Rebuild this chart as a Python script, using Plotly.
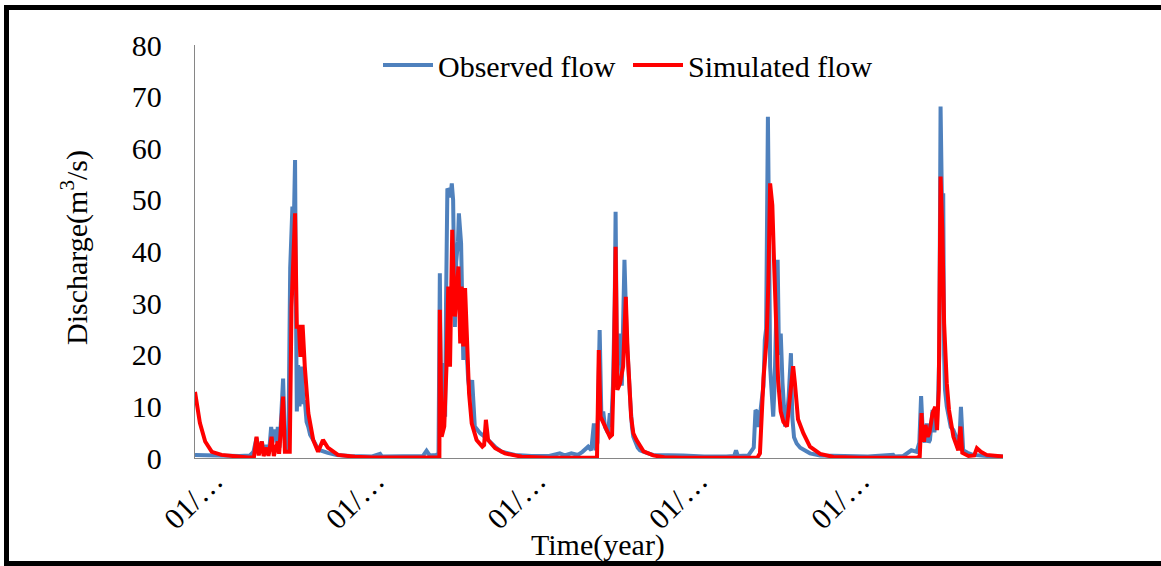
import pandas as pd
import plotly.graph_objects as go

# ---------------- data (days since start_date, discharge m3/s) ----------------
start_date = "2000-11-19"

obs_day = [0, 30, 60, 100, 124, 132, 139, 143, 151, 156, 162, 167, 172, 176, 180, 184, 187, 191,
           199, 203, 207, 211, 215, 220, 222, 226, 228, 230, 233, 236, 241, 245, 248, 252, 256,
           260, 267, 275, 282, 290, 300, 320, 350, 400, 418, 422,
           430, 480, 515, 523, 530, 545, 550, 553, 556, 557, 561, 565, 567, 570, 574, 577, 580,
           583, 587, 590, 594, 596, 601, 606, 611, 617, 622, 626, 632, 638, 644, 655, 662, 670,
           680, 693, 723, 760, 800, 824, 835, 850, 865, 875, 888, 895, 901, 905, 909,
           914, 918, 922, 926, 933, 937, 940, 944, 948, 950, 953, 957, 960, 964, 967, 970, 975,
           979, 983, 987, 990, 1000, 1005, 1020, 1035, 1102, 1150, 1200, 1218, 1222, 1226, 1250,
           1262, 1266, 1269, 1273, 1277, 1280, 1284, 1287, 1290, 1294, 1297, 1299, 1303, 1306,
           1309, 1312, 1316, 1319, 1323, 1327, 1331, 1333, 1337, 1341, 1346, 1349, 1353, 1359,
           1367, 1389, 1412, 1480, 1520, 1577, 1580, 1600, 1612, 1618, 1630, 1636, 1640, 1644,
           1648, 1653, 1657, 1660, 1666, 1670, 1674, 1678, 1681, 1684, 1687, 1690, 1692, 1694,
           1698, 1702, 1707, 1713, 1720, 1726, 1730, 1733, 1735, 1745, 1757, 1790, 1825]
obs_q = [0.6, 0.5, 0.4, 0.4, 0.5, 1.2, 3.9, 1.0, 3.2, 0.8, 2.5, 0.8, 6.0, 3.5, 5.5, 3.0, 6.0, 2.0,
         15.4, 3.0, 1.5, 3.0, 36.8, 48.7, 40.0, 57.7, 30.0, 9.0, 18.0, 10.0, 17.7, 10.5, 11.2, 7.0, 6.0,
         4.5, 3.5, 2.2, 1.5, 1.2, 1.0, 0.6, 0.4, 0.3, 0.8, 0.3,
         0.3, 0.3, 0.4, 1.4, 0.5, 0.6, 0.8, 35.8, 8.0, 12.5, 18.4, 8.0, 30.0, 51.9, 52.0, 50.5, 53.2,
         50.0, 25.4, 38.0, 42.0, 47.4, 41.6, 19.0, 25.4, 15.1, 12.0, 15.1, 6.1, 5.5, 4.8, 4.1, 3.5, 2.8,
         2.0, 1.2, 0.6, 0.4, 0.4, 0.9, 0.5, 0.9, 0.6, 1.2, 2.2, 1.5, 6.7, 1.5, 3.0,
         24.8, 7.4, 9.0, 6.0, 4.8, 8.7, 6.0, 14.0, 30.0, 47.7, 17.7, 22.0, 24.1, 14.0, 25.0, 38.4, 23.5,
         15.0, 11.2, 6.0, 4.1, 2.0, 1.5, 1.0, 0.6, 0.5, 0.3, 0.3, 0.4, 1.5, 0.4, 0.5,
         2.0, 9.3, 9.0, 6.0, 10.0, 11.2, 14.0, 22.9, 25.0, 66.1, 40.0, 17.7, 12.0, 8.0,
         14.0, 24.1, 38.4, 20.0, 24.1, 14.5, 10.0, 6.1, 8.0, 12.0, 20.3, 8.0, 4.0, 2.8,
         2.0, 0.9, 0.5, 0.3, 0.3, 0.6, 0.3, 0.4, 1.2, 1.5, 1.2, 3.0, 12.0, 4.8,
         3.0, 6.7, 3.0, 3.5, 9.3, 5.0, 8.0, 10.0, 20.0, 68.1, 50.0, 51.3, 20.0, 13.2,
         10.0, 8.0, 6.0, 5.4, 3.5, 2.5, 9.9, 4.0, 1.5, 1.0, 0.6, 0.4, 0.3]

sim_day = [0, 11, 23, 38, 60, 90, 120, 133, 139, 144, 151, 155, 162, 166, 173, 178, 182, 187, 190,
           199, 203, 214, 218, 221, 226, 230, 235, 238, 243, 248, 256, 267, 278, 289, 300, 323, 361,
           400, 450, 550, 552, 553, 557, 563, 568, 572, 576, 581, 587, 595, 599, 602, 606, 610, 614,
           619, 625, 636, 649, 653, 657, 662, 678, 700, 738, 800, 908,
           912, 916, 926, 937, 942, 946, 950, 954, 960, 967, 973, 977, 985, 990, 997, 1013, 1035,
           1060, 1100, 1270, 1276, 1284, 1291, 1295, 1299, 1304, 1308, 1313, 1317, 1323, 1329, 1337,
           1344, 1351, 1355, 1362, 1374, 1389, 1412, 1442, 1500, 1630, 1637, 1641, 1644, 1647, 1650,
           1655, 1659, 1666, 1672, 1676, 1680, 1684, 1688, 1692, 1698, 1703, 1713, 1724, 1729, 1733,
           1747, 1760, 1766, 1775, 1788, 1818, 1825]
sim_q = [12.8, 6.8, 3.2, 1.2, 0.6, 0.3, 0.1, 0.1, 4.1, 0.5, 3.2, 0.4, 2.0, 0.4, 4.1, 0.4, 1.5, 3.2, 0.8,
         11.9, 1.2, 1.2, 29.3, 35.0, 47.4, 25.4, 25.4, 19.6, 25.8, 17.7, 8.7, 3.5, 1.2, 3.5, 2.0, 0.6, 0.25,
         0.1, 0.05, 0.05, 0.1, 28.7, 4.1, 6.1, 17.7, 33.2, 17.7, 44.2, 27.4, 37.1, 22.2, 33.2, 21.6, 32.9, 24.1,
         12.5, 6.7, 3.5, 2.2, 2.5, 7.4, 3.5, 1.9, 0.9, 0.25, 0.05, 0.1,
         20.9, 8.0, 6.1, 4.1, 4.5, 17.7, 40.9, 13.2, 14.5, 17.7, 31.2, 20.9, 8.0, 4.8, 3.5, 1.3, 0.5,
         0.15, 0.05, 0.05, 0.9, 15.4, 22.9, 33.8, 53.2, 49.0, 37.7, 25.0, 15.1, 9.0, 7.0, 6.1,
         12.0, 17.8, 14.5, 7.5, 4.8, 2.2, 0.8, 0.2, 0.05, 0.05, 0.3, 8.7, 3.5, 3.5, 6.4,
         4.1, 5.0, 8.7, 9.9, 5.4, 13.2, 54.5, 44.2, 26.1, 14.5, 9.3, 4.1, 1.5, 6.1, 1.0,
         0.4, 0.5, 1.9, 1.2, 0.6, 0.3, 0.3]

tick_dates = ["2001-01-01", "2002-01-01", "2003-01-01", "2004-01-01", "2005-01-01"]
tick_text = ["01/…", "01/…", "01/…", "01/…", "01/…"]
y_ticks = [0, 10, 20, 30, 40, 50, 60, 70, 80]

# ---------------- figure ----------------
t0 = pd.Timestamp(start_date)
obs_x = t0 + pd.to_timedelta(obs_day, unit="D")
sim_x = t0 + pd.to_timedelta(sim_day, unit="D")

FONT = "Liberation Serif, Times New Roman, serif"
FS = 30
W, H = 1161, 566
L, R, T, B = 195, 158, 45, 108
pw, ph = W - L - R, H - T - B


def px(x):
    return (x - L) / pw


def py(y):
    return (H - B - y) / ph


fig = go.Figure()
fig.add_trace(go.Scatter(x=obs_x, y=obs_q, mode="lines", name="Observed flow",
                         line=dict(color="#4F81BD", width=4)))
fig.add_trace(go.Scatter(x=sim_x, y=sim_q, mode="lines", name="Simulated flow",
                         line=dict(color="#FF0000", width=4)))

fig.update_layout(
    width=W, height=H, autosize=False,
    margin=dict(l=L, r=R, t=T, b=B, pad=0),
    paper_bgcolor="white", plot_bgcolor="white",
    font=dict(family=FONT, size=FS, color="black"),
    showlegend=True,
    legend=dict(orientation="h", x=px(378), xanchor="left", y=py(65), yanchor="middle",
                bgcolor="rgba(0,0,0,0)", font=dict(size=FS), itemwidth=50,
                entrywidth=185, entrywidthmode="pixels", tracegroupgap=0),
    xaxis=dict(type="date", range=[t0, t0 + pd.Timedelta(days=1825)],
               tickmode="array", tickvals=tick_dates, ticktext=tick_text,
               tickangle=-45, showgrid=False, zeroline=False,
               showline=True, linecolor="#868686", linewidth=1.3, ticks="",
               ticklabelstandoff=-8, tickfont=dict(size=FS)),
    yaxis=dict(range=[0, 80], tickmode="array", tickvals=y_ticks,
               showgrid=False, zeroline=False, showline=True, linecolor="#868686",
               linewidth=1.3, ticks="", ticklabelstandoff=26, tickfont=dict(size=FS)),
    annotations=[
        dict(text="Discharge(m<sup>3</sup>/s)", xref="paper", yref="paper",
             x=px(74), y=py(248), textangle=-90, showarrow=False,
             xanchor="center", yanchor="middle", font=dict(size=FS)),
        dict(text="Time(year)", xref="paper", yref="paper",
             x=px(598), y=py(545), showarrow=False,
             xanchor="center", yanchor="middle", font=dict(size=FS)),
    ],
    shapes=[
        dict(type="rect", xref="paper", yref="paper",
             x0=px(6.5), x1=px(1175), y0=py(563.5), y1=py(7.5),
             line=dict(color="black", width=5), fillcolor="rgba(0,0,0,0)", layer="above"),
    ],
)

fig.write_html("out.html")
